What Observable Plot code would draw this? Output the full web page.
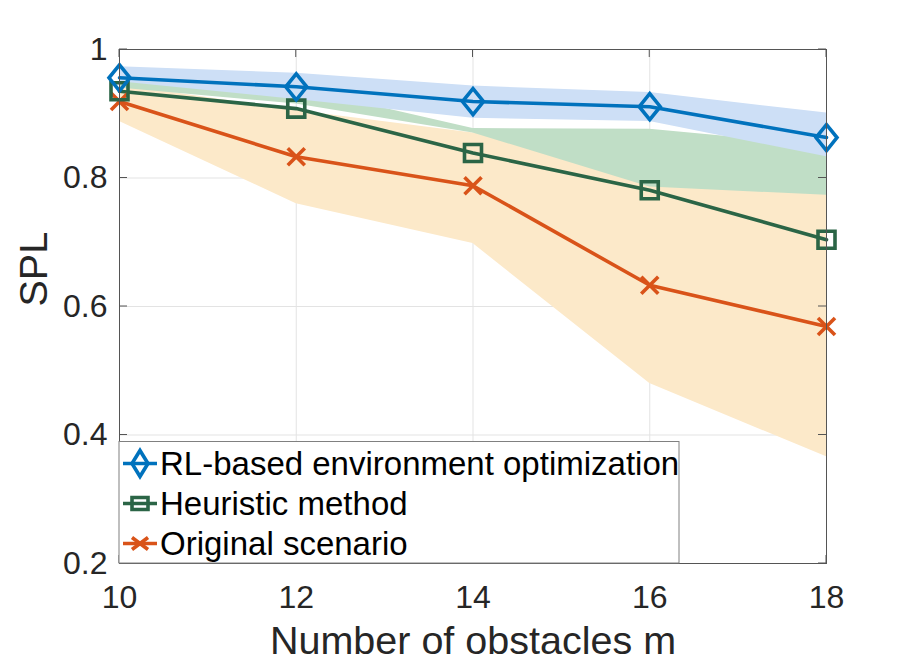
<!DOCTYPE html>
<html>
<head>
<meta charset="utf-8">
<script src="https://cdn.jsdelivr.net/npm/d3@7"></script>
<script src="https://cdn.jsdelivr.net/npm/@observablehq/plot@0.6"></script>
<style>
  html, body { margin: 0; padding: 0; background: #fff; }
  #chart { position: relative; width: 913px; height: 664px; }
</style>
</head>
<body>
<div id="chart"></div>
<script>
// ---- data ----
const obstacles = [10, 12, 14, 16, 18];
const xTicks = [10, 12, 14, 16, 18];
const yTicks = [0.2, 0.4, 0.6, 0.8, 1];
const yTickLabels = ["0.2", "0.4", "0.6", "0.8", "1"];

const rlMean  = [0.956, 0.942, 0.919, 0.911, 0.863];
const rlUpper = [0.973, 0.963, 0.943, 0.933, 0.901];
const rlLower = [0.950, 0.922, 0.893, 0.888, 0.833];

const heurMean  = [0.935, 0.908, 0.839, 0.781, 0.704];
const heurUpper = [0.955, 0.940, 0.877, 0.876, 0.850];
const heurLower = [0.940, 0.915, 0.870, 0.786, 0.773];

const origMean  = [0.919, 0.833, 0.788, 0.633, 0.569];
const origUpper = [0.945, 0.905, 0.870, 0.850, 0.800];
const origLower = [0.888, 0.760, 0.698, 0.480, 0.366];

const seriesNames = ["RL-based environment optimization", "Heuristic method", "Original scenario"];
const lineColors = ["#0072bd", "#2b6546", "#d95319"];
const bandColors = ["#cddff6", "#c0dec6", "#fce9c9"];

// ---- custom marker symbols ----
const diamondSym = { draw(ctx) { const w = 10.5, h = 13; ctx.moveTo(0, -h); ctx.lineTo(w, 0); ctx.lineTo(0, h); ctx.lineTo(-w, 0); ctx.closePath(); } };
const squareSym  = { draw(ctx) { const s = 8.5; ctx.moveTo(-s, -s); ctx.lineTo(s, -s); ctx.lineTo(s, s); ctx.lineTo(-s, s); ctx.closePath(); } };
const timesSym   = { draw(ctx) { const s = 8.5; ctx.moveTo(-s, -s); ctx.lineTo(s, s); ctx.moveTo(s, -s); ctx.lineTo(-s, s); } };
const symbols = [diamondSym, squareSym, timesSym];

const means = [rlMean, heurMean, origMean];
const uppers = [rlUpper, heurUpper, origUpper];
const lowers = [rlLower, heurLower, origLower];

const rows = [];
seriesNames.forEach((name, si) => {
  obstacles.forEach((x, i) => {
    rows.push({series: name, si, x, mean: means[si][i], lo: lowers[si][i], hi: uppers[si][i]});
  });
});
const bySeries = si => rows.filter(d => d.si === si);

const font = "'Liberation Sans', Arial, Helvetica, sans-serif";
const textColor = "#262626";

const bandOrder = [2, 1, 0];
const marks = [
  Plot.gridX(xTicks, {stroke: "#e3e3e3", strokeOpacity: 1, strokeWidth: 1}),
  Plot.gridY(yTicks, {stroke: "#e3e3e3", strokeOpacity: 1, strokeWidth: 1}),
  ...bandOrder.map(si => Plot.areaY(bySeries(si), {x: "x", y1: "lo", y2: "hi", fill: bandColors[si], fillOpacity: 1})),
  ...bandOrder.map(si => Plot.line(bySeries(si), {x: "x", y: "mean", stroke: lineColors[si], strokeWidth: 3.6})),
  ...bandOrder.map(si => Plot.dot(bySeries(si), {x: "x", y: "mean", symbol: symbols[si], stroke: lineColors[si], fill: "none", strokeWidth: 3.6, r: 5})),
  Plot.axisX(xTicks, {tickSize: 0, tickPadding: 22, fontSize: 32, label: null, fill: textColor}),
  Plot.axisY(yTicks, {tickSize: 0, tickPadding: 12, fontSize: 32, label: null, fill: textColor, tickFormat: d => yTickLabels[yTicks.indexOf(d)]}),
  Plot.text(["Number of obstacles m"], {frameAnchor: "bottom", dy: 78, fontSize: 39.5, fill: textColor, lineAnchor: "middle"}),
  Plot.text(["SPL"], {frameAnchor: "left", dx: -85, rotate: -90, fontSize: 39.5, fill: textColor, lineAnchor: "middle"}),
  Plot.frame({stroke: "#555", strokeWidth: 1})
];

const plot = Plot.plot({
  width: 913,
  height: 664,
  marginLeft: 119,
  marginRight: 87,
  marginTop: 49,
  marginBottom: 101,
  x: {domain: [10, 18]},
  y: {domain: [0.2, 1]},
  style: {fontFamily: font, background: "#fff", overflow: "visible"},
  marks
});

document.getElementById("chart").appendChild(plot);

// inward tick marks on all four sides (MATLAB style)
const xs = plot.scale("x"), ys = plot.scale("y");
const svg = d3.select(plot);
const tl = 8;
const [yBot, yTop] = [ys.apply(0.2), ys.apply(1)];
const [xL, xR] = [xs.apply(10), xs.apply(18)];
const tg = svg.append("g").attr("stroke", "#555").attr("stroke-width", 1);
xTicks.forEach(v => {
  const px = xs.apply(v);
  tg.append("line").attr("x1", px).attr("x2", px).attr("y1", yBot).attr("y2", yBot - tl);
  tg.append("line").attr("x1", px).attr("x2", px).attr("y1", yTop).attr("y2", yTop + tl);
});
yTicks.forEach(v => {
  const py = ys.apply(v);
  tg.append("line").attr("y1", py).attr("y2", py).attr("x1", xL).attr("x2", xL + tl);
  tg.append("line").attr("y1", py).attr("y2", py).attr("x1", xR).attr("x2", xR - tl);
});

// legend box (lower left, inside axes)
const lg = svg.append("g");
const boxTop = 441.5, boxLeft = xL, boxW = 560, boxH = yBot - 441.5;
lg.append("rect").attr("x", boxLeft).attr("y", boxTop).attr("width", boxW).attr("height", boxH)
  .attr("fill", "#fff").attr("stroke", "#808080").attr("stroke-width", 1);
const legendSym = [
  "M0,-13L8,0L0,13L-8,0Z",
  "M-8,-6L8,-6L8,6L-8,6Z",
  "M-8,-6L8,6M8,-6L-8,6"
];
seriesNames.forEach((name, si) => {
  const cy = 463.5 + si * 40;
  const g = lg.append("g");
  g.append("line").attr("x1", 123).attr("x2", 157).attr("y1", cy).attr("y2", cy)
    .attr("stroke", lineColors[si]).attr("stroke-width", 3.6);
  g.append("path").attr("d", legendSym[si])
    .attr("transform", `translate(140,${cy})`)
    .attr("fill", "none").attr("stroke", lineColors[si]).attr("stroke-width", 3.6);
  g.append("text").attr("x", 160).attr("y", cy).attr("dy", "0.36em")
    .attr("text-anchor", "start")
    .attr("font-size", 33).attr("font-family", font).attr("fill", "#000").text(name);
});
</script>
</body>
</html>
